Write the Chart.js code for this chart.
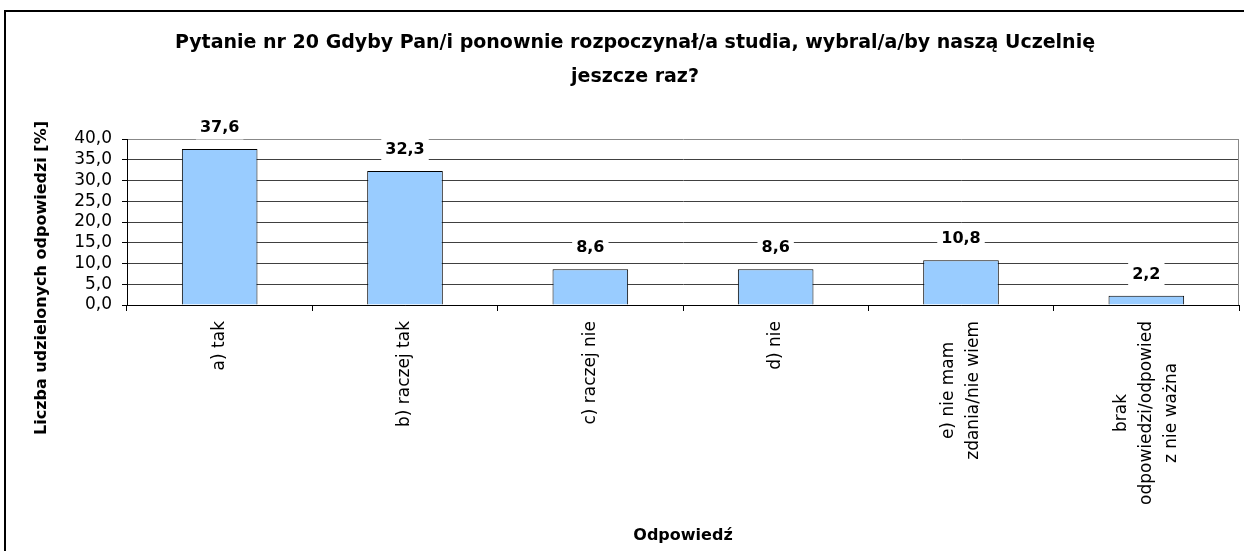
<!DOCTYPE html>
<html>
<head>
<meta charset="utf-8">
<script src="https://cdn.jsdelivr.net/npm/chart.js@4.4.1/dist/chart.umd.min.js"></script>
<style>
  html, body { margin: 0; padding: 0; background: #fff; }
  #wrap { width: 1244px; height: 551px; }
</style>
</head>
<body>
<div id="wrap"><canvas id="answersChart" width="1244" height="551"></canvas></div>
<script>
// data
const categories = [
  ['a) tak'],
  ['b) raczej tak'],
  ['c) raczej nie'],
  ['d) nie'],
  ['e) nie mam', 'zdania/nie wiem'],
  ['brak', 'odpowiedzi/odpowied', 'z nie ważna']
];
const percentValues = [37.6, 32.3, 8.6, 8.6, 10.8, 2.2];
const yMin = 0;
const yMax = 40;
const yStep = 5;
const titleLines = ['Pytanie nr 20 Gdyby Pan/i ponownie rozpoczynał/a studia, wybral/a/by naszą Uczelnię', 'jeszcze raz?'];
const yAxisTitle = 'Liczba udzielonych odpowiedzi [%]';
const xAxisTitle = 'Odpowiedź';

const FONT = '"DejaVu Sans", Arial, sans-serif';
const fmt = v => v.toFixed(1).replace('.', ',');

// outer frame and grey right edge of the plot area
const framePlugin = {
  id: 'frame',
  beforeDraw(chart) {
    const ctx = chart.ctx;
    ctx.save();
    ctx.fillStyle = '#fff';
    ctx.fillRect(0, 0, chart.width, chart.height);
    ctx.strokeStyle = '#000';
    ctx.lineWidth = 2;
    ctx.strokeRect(5, 11, chart.width + 20, chart.height + 20);
    ctx.restore();
  },
  beforeDatasetsDraw(chart) {
    const { ctx, chartArea } = chart;
    ctx.save();
    ctx.strokeStyle = '#888';
    ctx.lineWidth = 1;
    ctx.beginPath();
    ctx.moveTo(chartArea.right - 0.5, chartArea.top);
    ctx.lineTo(chartArea.right - 0.5, chartArea.bottom);
    ctx.stroke();
    ctx.restore();
  }
};

// value labels above the bars, on a white box that hides the gridlines
const valueLabels = {
  id: 'valueLabels',
  afterDatasetsDraw(chart) {
    const ctx = chart.ctx;
    const meta = chart.getDatasetMeta(0);
    ctx.save();
    ctx.font = 'bold 16px ' + FONT;
    ctx.textAlign = 'center';
    ctx.textBaseline = 'middle';
    meta.data.forEach((bar, i) => {
      const txt = fmt(percentValues[i]);
      const w = ctx.measureText(txt).width;
      const cy = bar.y - 21;
      ctx.fillStyle = '#fff';
      ctx.fillRect(bar.x - w / 2 - 4, cy - 12, w + 8, 23.5);
      ctx.fillStyle = '#000';
      ctx.fillText(txt, bar.x, cy);
    });
    ctx.restore();
  }
};

// rotated category labels, lines centred like in the original + y axis title
const sideTexts = {
  id: 'sideTexts',
  afterDraw(chart) {
    const ctx = chart.ctx;
    const xs = chart.scales.x;
    ctx.save();
    ctx.fillStyle = '#000';
    ctx.textAlign = 'center';
    ctx.textBaseline = 'middle';
    ctx.font = '17px ' + FONT;
    const lh = 25;
    categories.forEach((lines, i) => {
      const x = xs.getPixelForTick(i);
      const maxW = Math.max(...lines.map(l => ctx.measureText(l).width));
      const cy = xs.top + 16 + maxW / 2;
      ctx.save();
      ctx.translate(x, cy);
      ctx.rotate(-Math.PI / 2);
      lines.forEach((l, k) => ctx.fillText(l, 0, (k - (lines.length - 1) / 2) * lh));
      ctx.restore();
    });
    ctx.font = 'bold 16px ' + FONT;
    ctx.translate(42, 278);
    ctx.rotate(-Math.PI / 2);
    ctx.fillText(yAxisTitle, 0, 0);
    ctx.restore();
  }
};

const ctxAnswers = document.getElementById('answersChart').getContext('2d');
const answersChart = new Chart(ctxAnswers, {
  type: 'bar',
  data: {
    labels: categories,
    datasets: [{
      data: percentValues,
      backgroundColor: '#99CCFF',
      borderColor: '#000',
      borderWidth: 1,
      barPercentage: 0.408,
      categoryPercentage: 1
    }]
  },
  options: {
    responsive: false,
    animation: false,
    devicePixelRatio: 1,
    layout: { padding: { left: 31, right: 5, top: 0, bottom: 0 } },
    plugins: {
      legend: { display: false },
      tooltip: { enabled: false },
      title: {
        display: true,
        text: titleLines,
        color: '#000',
        font: { family: FONT, size: 19, weight: 'bold', lineHeight: 1.8 },
        padding: { top: 26, bottom: 44.6 }
      }
    },
    scales: {
      x: {
        ticks: { display: false },
        grid: { offset: true, drawOnChartArea: false, tickLength: 6, tickColor: '#000' },
        border: { color: '#000' },
        title: {
          display: true,
          text: xAxisTitle,
          color: '#000',
          font: { family: FONT, size: 16, weight: 'bold' },
          padding: { top: 0, bottom: 6 }
        },
        afterFit: s => { s.height = 246; }
      },
      y: {
        min: yMin,
        max: yMax,
        ticks: {
          stepSize: yStep,
          autoSkip: false,
          callback: v => fmt(v),
          color: '#000',
          font: { family: FONT, size: 17 },
          padding: 10
        },
        grid: {
          color: c => (c.tick && c.tick.value === yMax ? '#888' : '#404040'),
          tickColor: '#000',
          tickLength: 5
        },
        border: { color: '#000' },
        afterFit: s => { s.width = 96; }
      }
    }
  },
  plugins: [framePlugin, valueLabels, sideTexts]
});
</script>
</body>
</html>
